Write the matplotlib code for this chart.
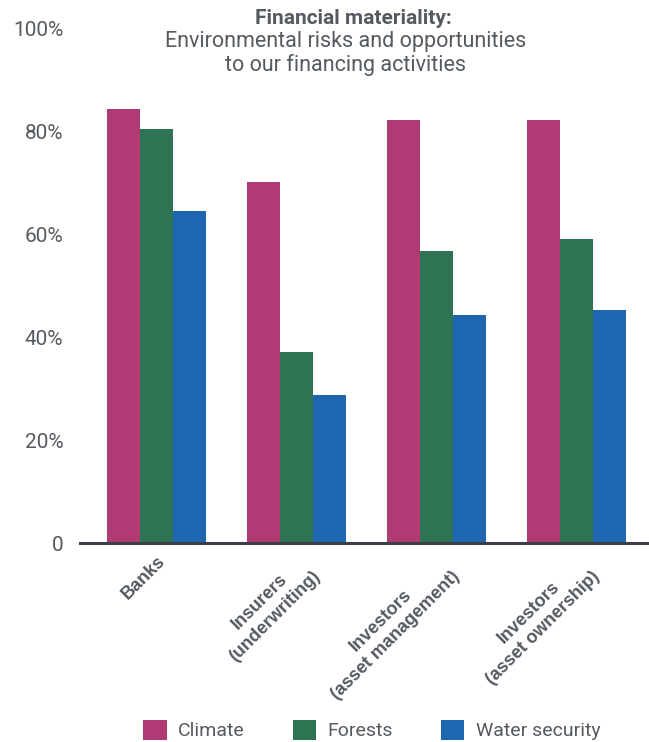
import matplotlib.pyplot as plt
import numpy as np

plt.rcParams['font.family'] = ['Roboto', 'DejaVu Sans']

categories = ['Banks', 'Insurers\n(underwriting)', 'Investors\n(asset management)',
              'Investors\n(asset ownership)']
series = ['Climate', 'Forests', 'Water security']
climate = [84.5, 70.3, 82.2, 82.2]
forests = [80.5, 37.1, 56.9, 59.2]
water = [64.5, 28.8, 44.4, 45.3]
yticks = [0, 20, 40, 60, 80, 100]
ytick_labels = ['0', '20%', '40%', '60%', '80%', '100%']
title_lines = ['Financial materiality:', 'Environmental risks and opportunities',
               'to our financing activities']

colors = ['#b03a73', '#2d7354', '#1f66b0']
text_gray = '#555a60'

fig = plt.figure(figsize=(6.49, 7.42), dpi=100)
ax = fig.add_axes([0.123, 0.268, 0.877, 0.693])

x = np.arange(len(categories))
w = 0.236
for k, (vals, name) in enumerate(zip([climate, forests, water], series)):
    ax.bar(x + (k - 1) * w, vals, width=w, color=colors[k], label=name, zorder=2)

ax.set_xlim(-0.546, 3.518)
ax.set_ylim(0, 100)

for s in ['top', 'right', 'left']:
    ax.spines[s].set_visible(False)
ax.spines['bottom'].set_color('#3a3f4a')
ax.spines['bottom'].set_linewidth(2.2)
ax.spines['bottom'].set_zorder(3)

ax.set_yticks(yticks)
ax.set_yticklabels(ytick_labels, fontsize=15, color=text_gray)
ax.tick_params(axis='y', length=0, pad=12)

ax.set_xticks(x)
ax.set_xticklabels(categories, rotation=45, ha='right', va='top',
                   rotation_mode='anchor', multialignment='center',
                   fontsize=13, fontweight='bold', color=text_gray,
                   family=['Liberation Sans', 'DejaVu Sans'], linespacing=1.3)
ax.tick_params(axis='x', length=0, pad=7)

# title block, one text per line
fig.text(0.544, 1 - 19 / 742, title_lines[0], ha='center', va='center',
         fontsize=15, fontweight='bold', color=text_gray)
fig.text(0.532, 1 - 42 / 742, title_lines[1], ha='center', va='center',
         fontsize=15.5, color=text_gray)
fig.text(0.532, 1 - 65 / 742, title_lines[2], ha='center', va='center',
         fontsize=15.5, color=text_gray)

fig.legend(loc='center', bbox_to_anchor=(0.573, 1 - 730 / 742), ncol=3, frameon=False,
           fontsize=14, handlelength=1.2, handleheight=1.2, columnspacing=2.45,
           labelcolor=text_gray, handletextpad=0.6)

fig.savefig('out.png', dpi=100)
